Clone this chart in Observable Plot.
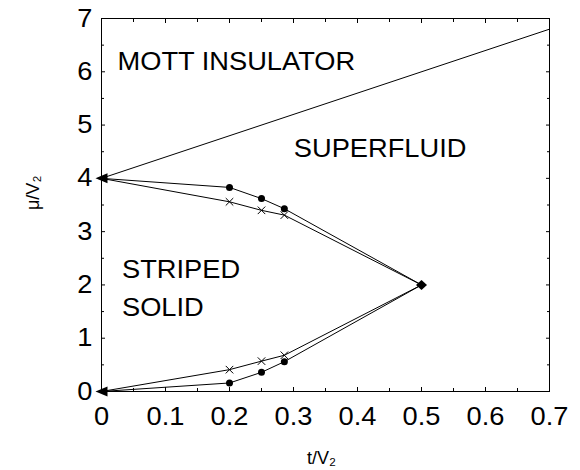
<!DOCTYPE html>
<html><head><meta charset="utf-8">
<script src="https://cdn.jsdelivr.net/npm/d3@7"></script>
<script src="https://cdn.jsdelivr.net/npm/@observablehq/plot@0.6"></script>
<style>body{margin:0;background:#fff}</style>
</head><body><div id="chart"></div>
<script>
// Phase boundary data (t/V2, mu/V2)
const tValues      = [0, 0.2, 0.25, 0.2857, 0.5];
const muUpperDots  = [4, 3.83, 3.62, 3.43, 2];
const muUpperCross = [4, 3.56, 3.40, 3.31, 2];
const muLowerCross = [0, 0.41, 0.57, 0.68, 2];
const muLowerDots  = [0, 0.16, 0.36, 0.56, 2];
const interiorIdx  = [1, 2, 3];

// Mott insulator / superfluid boundary
const sfT  = [0, 0.7];
const sfMu = [4, 6.8];

// Special points
const triT = [0, 0];
const triMu = [4, 0];
const diaT = [0.5];
const diaMu = [2];

// Ticks
const xTicks = [0, 0.1, 0.2, 0.3, 0.4, 0.5, 0.6, 0.7];
const xMinorTicks = [0.05, 0.15, 0.25, 0.35, 0.45, 0.55, 0.65];
const yTicks = [0, 1, 2, 3, 4, 5, 6, 7];
const yMinorTicks = [0.5, 1.5, 2.5, 3.5, 4.5, 5.5, 6.5];

// Region labels
const regionLabels = ["MOTT INSULATOR", "SUPERFLUID", "STRIPED\nSOLID"];
const regionT  = [0.025, 0.3005, 0.032];
const regionMu = [6.04, 4.40, 1.426];

const xLabel = "t/V₂";
const yLabel = "μ/V₂";

const curve = (mu) => tValues.map((t, i) => ({t, mu: mu[i]}));
const pts = (mu) => interiorIdx.map(i => ({t: tValues[i], mu: mu[i]}));

const leftTriangle = {draw(ctx) { ctx.moveTo(-6, 0); ctx.lineTo(6, -5); ctx.lineTo(6, 5); ctx.closePath(); }};
const diamond = {draw(ctx) { ctx.moveTo(0, -5); ctx.lineTo(5.5, 0); ctx.lineTo(0, 5); ctx.lineTo(-5.5, 0); ctx.closePath(); }};

const fmt = d => `${d}`;
const FS = 25;

const chart = Plot.plot({
  width: 580,
  height: 470,
  marginLeft: 101,
  marginRight: 31,
  marginTop: 18,
  marginBottom: 79,
  style: {fontFamily: "'Liberation Sans', Arial, sans-serif", fontSize: FS + "px", background: "#fff", color: "#000", overflow: "visible"},
  x: {domain: [0, 0.7]},
  y: {domain: [0, 7]},
  marks: [
    Plot.frame({stroke: "#000", strokeWidth: 1}),
    // major / minor ticks (inward) on all four sides
    Plot.axisX({ticks: xTicks, anchor: "bottom", tickSize: -4, tickPadding: 20, tickFormat: fmt, label: null, fontSize: FS}),
    Plot.axisX({ticks: xMinorTicks, anchor: "bottom", tickSize: -3, tickFormat: () => "", label: null}),
    Plot.axisX({ticks: xTicks, anchor: "top", tickSize: -4, tickFormat: () => "", label: null}),
    Plot.axisX({ticks: xMinorTicks, anchor: "top", tickSize: -3, tickFormat: () => "", label: null}),
    Plot.axisY({ticks: yTicks, anchor: "left", tickSize: -4, tickPadding: 13, tickFormat: fmt, label: null, fontSize: FS}),
    Plot.axisY({ticks: yMinorTicks, anchor: "left", tickSize: -3, tickFormat: () => "", label: null}),
    Plot.axisY({ticks: yTicks, anchor: "right", tickSize: -4, tickFormat: () => "", label: null}),
    Plot.axisY({ticks: yMinorTicks, anchor: "right", tickSize: -3, tickFormat: () => "", label: null}),
    // boundaries
    Plot.line(sfT.map((t, i) => ({t, mu: sfMu[i]})), {x: "t", y: "mu", stroke: "#000", strokeWidth: 1}),
    Plot.line(curve(muUpperDots), {x: "t", y: "mu", stroke: "#000", strokeWidth: 1}),
    Plot.line(curve(muUpperCross), {x: "t", y: "mu", stroke: "#000", strokeWidth: 1}),
    Plot.line(curve(muLowerCross), {x: "t", y: "mu", stroke: "#000", strokeWidth: 1}),
    Plot.line(curve(muLowerDots), {x: "t", y: "mu", stroke: "#000", strokeWidth: 1}),
    // markers
    Plot.dot([...pts(muUpperDots), ...pts(muLowerDots)], {x: "t", y: "mu", r: 3.5, fill: "#000", stroke: "none"}),
    Plot.dot([...pts(muUpperCross), ...pts(muLowerCross)], {x: "t", y: "mu", r: 3.5, symbol: "times", stroke: "#000", strokeWidth: 1}),
    Plot.dot(triT.map((t, i) => ({t, mu: triMu[i]})), {x: "t", y: "mu", symbol: leftTriangle, fill: "#000", stroke: "none"}),
    Plot.dot(diaT.map((t, i) => ({t, mu: diaMu[i]})), {x: "t", y: "mu", symbol: diamond, fill: "#000", stroke: "none"}),
    // region labels
    Plot.text(regionLabels.map((s, i) => ({s, t: regionT[i], mu: regionMu[i]})), {x: "t", y: "mu", text: "s", textAnchor: "start", lineAnchor: "bottom", lineHeight: 1.52, fontSize: FS, fill: "#000"}),
    // axis labels
    Plot.text([xLabel], {frameAnchor: "bottom", text: d => d, dx: -4, dy: 72, lineAnchor: "bottom", fontSize: 18, fill: "#000"}),
    Plot.text([yLabel], {frameAnchor: "left", text: d => d, dx: -68, dy: 5, rotate: -90, fontSize: 18, fill: "#000"})
  ]
});
document.getElementById("chart").appendChild(chart);

// The reference glyphs are slightly wider than Liberation Sans: stretch horizontally.
const STRETCH = 1.09;
chart.querySelectorAll("text").forEach(el => {
  const txt = el.textContent;
  if (!txt || txt === xLabel || txt === yLabel) return;
  const spans = el.querySelectorAll("tspan");
  const targets = spans.length ? Array.from(spans) : [el];
  targets.forEach(t => {
    const len = t.getComputedTextLength();
    if (len > 0) {
      t.setAttribute("textLength", (len * STRETCH).toFixed(2));
      t.setAttribute("lengthAdjust", "spacingAndGlyphs");
    }
  });
});
</script>
</body></html>
